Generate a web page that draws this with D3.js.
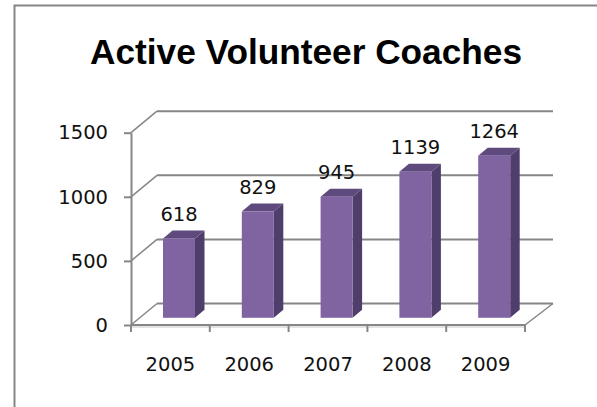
<!DOCTYPE html>
<html>
<head>
<meta charset="utf-8">
<script src="https://cdn.jsdelivr.net/npm/d3@7"></script>
<style>
  body { margin: 0; background: #fff; }
  text { font-family: 'DejaVu Sans', sans-serif; }
</style>
</head>
<body>
<div id="chart"></div>
<script>
// Data
var years = ['2005', '2006', '2007', '2008', '2009'];
var coaches = [618, 829, 945, 1139, 1264];
var yTicks = [0, 500, 1000, 1500];
var title = 'Active Volunteer Coaches';

var width = 597, height = 407;

// 3D offsets: back wall and bar depth
var back = { dx: 26, dy: -21.5 };
var barPlane = { dx: 8.6, dy: -7.2 };
var barDepth = { dx: 9.5, dy: -8 };
var barWidth = 32;
var gridColor = '#868686';
var labelSize = 19.5;

// Scales for the front plane
var x = d3.scaleBand().domain(years).range([131, 525]).padding(0);
var y = d3.scaleLinear().domain([0, 1500]).range([325, 132.7]);

var svg = d3.select('#chart')
  .append('svg')
  .attr('width', width)
  .attr('height', height);

svg.append('rect')
  .attr('width', width)
  .attr('height', height)
  .attr('fill', 'white');

// Outer frame (left and top edges visible)
svg.append('path')
  .attr('d', 'M14.5,' + height + 'V5.5H' + width)
  .attr('fill', 'none')
  .attr('stroke', gridColor)
  .attr('stroke-width', 2);

// Title
svg.append('text')
  .attr('x', 306)
  .attr('y', 64)
  .attr('text-anchor', 'middle')
  .attr('font-weight', 'bold')
  .attr('font-size', 35)
  .attr('textLength', 432)
  .attr('lengthAdjust', 'spacingAndGlyphs')
  .style('font-family', "'Liberation Sans', Arial, sans-serif")
  .text(title);

var x0 = x.range()[0], x1 = x.range()[1];

// Floor top surface
svg.append('path')
  .attr('d', 'M' + x0 + ',' + y(0) + 'L' + x1 + ',' + y(0) +
    'L' + (x1 + back.dx) + ',' + (y(0) + back.dy) +
    'L' + (x0 + back.dx) + ',' + (y(0) + back.dy) + 'Z')
  .attr('fill', 'white');

// Floor front slab
svg.append('rect')
  .attr('x', x0)
  .attr('y', y(0))
  .attr('width', x1 - x0)
  .attr('height', 3)
  .attr('fill', '#e3e3e3');

// Back wall gridlines and left wall diagonals
var grid = svg.append('g');
grid.selectAll('line.back')
  .data(yTicks)
  .enter().append('line')
  .attr('class', 'back')
  .attr('x1', x0 + back.dx)
  .attr('x2', x1 + back.dx + 2)
  .attr('y1', function(d) { return y(d) + back.dy; })
  .attr('y2', function(d) { return y(d) + back.dy; })
  .attr('stroke', gridColor)
  .attr('stroke-width', 2);

grid.selectAll('line.side')
  .data(yTicks)
  .enter().append('line')
  .attr('class', 'side')
  .attr('x1', x0)
  .attr('x2', x0 + back.dx)
  .attr('y1', function(d) { return y(d); })
  .attr('y2', function(d) { return y(d) + back.dy; })
  .attr('stroke', gridColor)
  .attr('stroke-width', 1.5);

// Right edge of floor
svg.append('line')
  .attr('x1', x1)
  .attr('y1', y(0))
  .attr('x2', x1 + back.dx + 2)
  .attr('y2', y(0) + back.dy)
  .attr('stroke', gridColor)
  .attr('stroke-width', 1.5);

// Y axis
var yAxis = svg.append('g')
  .attr('transform', 'translate(' + x0 + ',0)')
  .call(d3.axisLeft(y).tickValues(yTicks).tickFormat(d3.format('d'))
    .tickSize(7).tickSizeOuter(0).tickPadding(16));
yAxis.select('.domain').attr('stroke', gridColor).attr('stroke-width', 2);
yAxis.selectAll('.tick line').attr('stroke', gridColor).attr('stroke-width', 2);
yAxis.selectAll('.tick text')
  .attr('font-family', 'DejaVu Sans, sans-serif')
  .attr('font-size', labelSize)
  .attr('fill', '#111');

// X axis line with boundary ticks
var xAxis = svg.append('g');
xAxis.append('line')
  .attr('x1', x0).attr('x2', x1)
  .attr('y1', y(0)).attr('y2', y(0))
  .attr('stroke', gridColor)
  .attr('stroke-width', 2);
var bounds = years.map(function(d) { return x(d); }).concat([x1]);
xAxis.selectAll('line.tick')
  .data(bounds)
  .enter().append('line')
  .attr('class', 'tick')
  .attr('x1', function(d) { return d; })
  .attr('x2', function(d) { return d; })
  .attr('y1', y(0))
  .attr('y2', y(0) + 7)
  .attr('stroke', gridColor)
  .attr('stroke-width', 2);
xAxis.selectAll('text')
  .data(years)
  .enter().append('text')
  .attr('x', function(d) { return x(d) + x.bandwidth() / 2; })
  .attr('y', 371)
  .attr('text-anchor', 'middle')
  .attr('font-size', labelSize)
  .attr('fill', '#111')
  .text(function(d) { return d; });

// Bars (3D columns)
var data = years.map(function(d, i) { return { year: d, value: coaches[i] }; });

function barGeom(d) {
  var left = x(d.year) + x.bandwidth() / 2 - barWidth / 2 + barPlane.dx;
  var right = left + barWidth;
  var bottom = y(0) + barPlane.dy;
  var top = y(d.value) + barPlane.dy;
  return { left: left, right: right, bottom: bottom, top: top };
}

var bars = svg.append('g')
  .selectAll('g')
  .data(data)
  .enter().append('g');

// Side face
bars.append('path')
  .attr('d', function(d) {
    var g = barGeom(d);
    return 'M' + g.right + ',' + g.bottom +
      'L' + (g.right + barDepth.dx) + ',' + (g.bottom + barDepth.dy) +
      'L' + (g.right + barDepth.dx) + ',' + (g.top + barDepth.dy) +
      'L' + g.right + ',' + g.top + 'Z';
  })
  .attr('fill', '#4F3D6B');

// Top face
bars.append('path')
  .attr('d', function(d) {
    var g = barGeom(d);
    return 'M' + g.left + ',' + g.top +
      'L' + (g.left + barDepth.dx) + ',' + (g.top + barDepth.dy) +
      'L' + (g.right + barDepth.dx) + ',' + (g.top + barDepth.dy) +
      'L' + g.right + ',' + g.top + 'Z';
  })
  .attr('fill', '#5F4A7E');

// Front face
bars.append('rect')
  .attr('x', function(d) { return barGeom(d).left; })
  .attr('y', function(d) { return barGeom(d).top; })
  .attr('width', barWidth)
  .attr('height', function(d) { var g = barGeom(d); return g.bottom - g.top; })
  .attr('fill', '#8064A2');

// Value labels
bars.append('text')
  .attr('x', function(d) { return barGeom(d).left + barWidth / 2; })
  .attr('y', function(d) { return barGeom(d).top - 18; })
  .attr('text-anchor', 'middle')
  .attr('font-size', labelSize)
  .attr('fill', '#111')
  .text(function(d) { return d.value; });
</script>
</body>
</html>
